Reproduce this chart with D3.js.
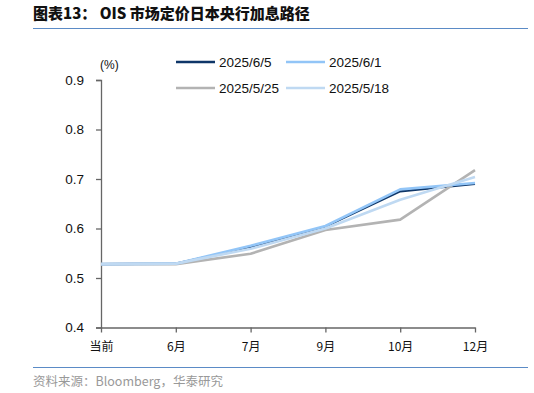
<!DOCTYPE html>
<html><head><meta charset="utf-8">
<script src="https://cdn.jsdelivr.net/npm/d3@7"></script>
<style>body{margin:0;background:#fff}svg{display:block}</style>
</head><body><svg id="c" width="534" height="393"></svg>
<script>
const categories = ["当前","6月","7月","9月","10月","12月"];
const seriesNames = ["2025/6/5","2025/6/1","2025/5/25","2025/5/18"];
const s20250605 = [0.528,0.529,0.562,0.604,0.675,0.690];
const s20250601 = [0.528,0.529,0.565,0.605,0.679,0.692];
const s20250525 = [0.528,0.528,0.549,0.597,0.618,0.718];
const s20250518 = [0.528,0.529,0.559,0.600,0.658,0.704];
const yTicks = [0.4,0.5,0.6,0.7,0.8,0.9];
const colors = ["#0E3668","#92C5F7","#B3B3B3","#BFD9F2"];
const seriesVals = [s20250605,s20250601,s20250525,s20250518];
const drawOrder = [0,2,1,3];

const svg = d3.select("#c");
const font = "'Liberation Sans', Arial, sans-serif";
const cjk = "'Noto Sans CJK SC', sans-serif";

// title
svg.append("text").attr("x",33).attr("y",19).attr("font-family",cjk).attr("font-weight","900")
  .attr("font-size",15).attr("fill","#111").text("图表13：  OIS 市场定价日本央行加息路径");
svg.append("line").attr("x1",33).attr("x2",528).attr("y1",28.5).attr("y2",28.5).attr("stroke","#5B8BC6").attr("stroke-width",1.2);
svg.append("line").attr("x1",33).attr("x2",528).attr("y1",367.5).attr("y2",367.5).attr("stroke","#5B8BC6").attr("stroke-width",1.2);
svg.append("text").attr("x",33).attr("y",386).attr("font-family",cjk).attr("font-size",12.5)
  .attr("fill","#999").text("资料来源：Bloomberg，华泰研究");

const x = d3.scalePoint().domain(categories).range([101,475]);
const y = d3.scaleLinear().domain([0.4,0.9]).range([327.5,80]);

const yAx = svg.append("g").attr("transform","translate(101,0)")
  .call(d3.axisLeft(y).tickValues(yTicks).tickFormat(d3.format(".1f")).tickSize(5).tickPadding(12));
const xAx = svg.append("g").attr("transform","translate(0,327.5)")
  .call(d3.axisBottom(x).tickSize(5).tickPadding(8).tickSizeOuter(0));
[yAx,xAx].forEach(g=>{
  g.select(".domain").attr("stroke","#666").attr("stroke-width",1.3);
  g.selectAll(".tick line").attr("stroke","#666").attr("stroke-width",1.3);
});
yAx.selectAll("text").attr("font-family",font).attr("font-size",13.5).attr("fill","#111");
xAx.selectAll("text").attr("font-family",cjk).attr("font-size",12).attr("fill","#111").attr("dy","0.9em");

svg.append("text").attr("x",100).attr("y",69).attr("font-family",font).attr("font-size",12).attr("fill","#111").text("(%)");

const line = d3.line().x((d,i)=>x(categories[i])).y(d=>y(d));
drawOrder.forEach(k=>{
  svg.append("path").datum(seriesVals[k]).attr("d",line).attr("fill","none")
    .attr("stroke",colors[k]).attr("stroke-width",k===0?2.2:2.6).attr("stroke-linejoin","round");
});

// legend
const legPos = [[176,62],[286,62],[176,88],[286,88]];
seriesNames.forEach((n,k)=>{
  const [lx,ly] = legPos[k];
  svg.append("line").attr("x1",lx).attr("x2",lx+39).attr("y1",ly).attr("y2",ly)
    .attr("stroke",colors[k]).attr("stroke-width",2.6);
  svg.append("text").attr("x",lx+43).attr("y",ly+5).attr("font-family",font).attr("font-size",13.5)
    .attr("fill","#111").text(n);
});
</script></body></html>
